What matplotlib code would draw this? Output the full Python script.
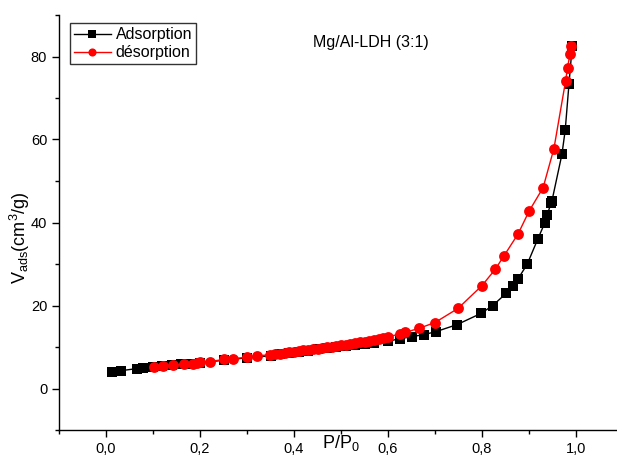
import matplotlib
matplotlib.use("Agg")
import matplotlib.pyplot as plt
from matplotlib.ticker import MultipleLocator, FuncFormatter

plt.rcParams['font.family'] = ['Liberation Sans', 'DejaVu Sans']
plt.rcParams['mathtext.default'] = 'regular'

ads_x = [0.012, 0.032, 0.066, 0.079, 0.10, 0.12, 0.14, 0.16, 0.18, 0.20, 0.25, 0.30,
         0.35, 0.37, 0.39, 0.41, 0.43, 0.45, 0.47, 0.49, 0.51, 0.53, 0.55, 0.57, 0.60,
         0.626, 0.651, 0.677, 0.702, 0.747, 0.798, 0.823, 0.851, 0.866, 0.877, 0.896,
         0.919, 0.934, 0.938, 0.947, 0.949, 0.970, 0.977, 0.985, 0.992]
ads_y = [3.9, 4.3, 4.8, 5.0, 5.2, 5.4, 5.6, 5.8, 6.0, 6.2, 6.8, 7.4,
         7.9, 8.2, 8.5, 8.8, 9.1, 9.4, 9.7, 10.0, 10.3, 10.5, 10.8, 11.0, 11.4,
         12.0, 12.5, 13.0, 13.7, 15.4, 18.1, 20.0, 22.9, 24.8, 26.5, 29.9,
         36.1, 40.0, 41.7, 44.6, 45.3, 56.4, 62.2, 73.3, 82.6]

des_x = [0.102, 0.122, 0.143, 0.165, 0.186, 0.193, 0.200, 0.221, 0.251, 0.270, 0.300,
         0.321, 0.349, 0.36, 0.37, 0.38, 0.39, 0.40, 0.41, 0.42, 0.43, 0.44, 0.45, 0.46,
         0.47, 0.48, 0.49, 0.50, 0.51, 0.52, 0.53, 0.54, 0.55, 0.56, 0.57, 0.58, 0.59,
         0.60, 0.626, 0.636, 0.666, 0.700, 0.749, 0.800, 0.828, 0.847, 0.877, 0.900,
         0.930, 0.953, 0.978, 0.982, 0.987, 0.990]
des_y = [5.1, 5.4, 5.7, 5.9, 6.0, 6.2, 6.3, 6.5, 7.0, 7.2, 7.5,
         7.9, 8.1, 8.3, 8.4, 8.6, 8.7, 8.9, 9.0, 9.2, 9.3, 9.5, 9.6, 9.8,
         9.9, 10.1, 10.3, 10.4, 10.6, 10.8, 10.9, 11.1, 11.3, 11.5, 11.7, 11.9, 12.1,
         12.4, 13.2, 13.5, 14.5, 15.9, 19.3, 24.8, 28.7, 32.0, 37.3, 42.7,
         48.4, 57.8, 74.2, 77.3, 80.5, 82.6]

x_ticks = [0.0, 0.2, 0.4, 0.6, 0.8, 1.0]
y_ticks = [0, 20, 40, 60, 80]

fig = plt.figure(figsize=(6.17, 4.57), dpi=100)
ax = fig.add_axes([59/617, 27/457, 564/617, 415/457])

ax.plot(ads_x, ads_y, color='black', lw=1.0, marker='s', ms=6.8,
        markeredgewidth=0, label='Adsorption')
ax.plot(des_x, des_y, color='red', lw=1.0, marker='o', ms=7.8,
        markeredgewidth=0, label='désorption')

ax.set_xlim(-0.1, 1.1)
ax.set_ylim(-10, 90)
ax.spines['top'].set_visible(False)
ax.spines['right'].set_visible(False)
ax.set_xticks(x_ticks)
ax.set_yticks(y_ticks)
ax.xaxis.set_minor_locator(MultipleLocator(0.1))
ax.yaxis.set_minor_locator(MultipleLocator(10))
ax.xaxis.set_major_formatter(FuncFormatter(lambda v, p: f"{v:.1f}".replace('.', ',')))
ax.tick_params(which='major', direction='out', length=5, width=1, labelsize=10.5)
ax.tick_params(which='minor', direction='out', length=3, width=1)
for s in ['left', 'bottom']:
    ax.spines[s].set_linewidth(1.0)

ax.set_xlabel('P/P$_0$', fontsize=13)
ax.xaxis.set_label_coords(0.5, -0.007)
ax.set_ylabel('V$_{ads}$(cm$^3$/g)', fontsize=13)
ax.yaxis.set_label_coords(-0.048, 0.463)

ax.text(0.44, 83.4, 'Mg/Al-LDH (3:1)', fontsize=11.5, va='center', ha='left')

leg = ax.legend(loc='upper left', bbox_to_anchor=(0.0195, 0.98), borderaxespad=0,
                fontsize=11.5, frameon=True, fancybox=False, edgecolor='black',
                borderpad=0.25, handlelength=2.3, handletextpad=0.3, labelspacing=0.2,
                markerscale=0.75)
leg.get_frame().set_linewidth(1.0)

fig.savefig('out.png', dpi=100)
